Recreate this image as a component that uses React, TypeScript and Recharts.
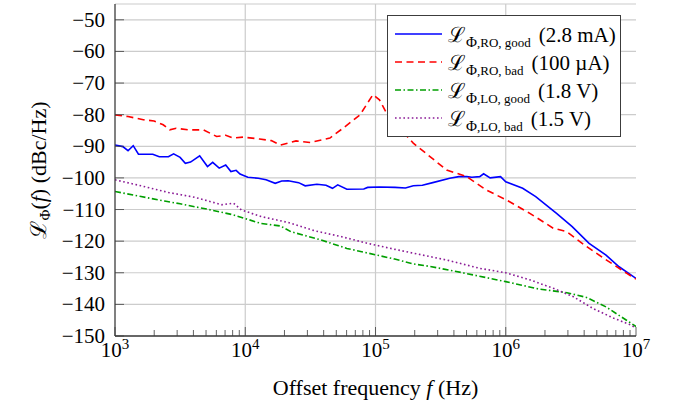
import { LineChart, Line, XAxis, YAxis, CartesianGrid, ReferenceLine, Legend } from 'recharts';

const FONT = '"Liberation Serif", "Times New Roman", serif';
const AXIS = '#3c3c3c';
const GRID = '#cccccc';

// x axis: decades get a label, the rest are minor ticks
const decades = [1e3, 1e4, 1e5, 1e6, 1e7];
const decadeExponents = ['3', '4', '5', '6', '7'];
const gridDecades = [1e4, 1e5, 1e6];
const xTicks = decades.slice(0, -1).flatMap(d => [1, 2, 3, 4, 5, 6, 7, 8, 9].map(m => m * d)).concat([1e7]);
const yTicks = [-150, -140, -130, -120, -110, -100, -90, -80, -70, -60, -50];

// RO, good (2.8 mA) - blue
const roGoodFreq = [
  1000, 1148, 1259, 1380, 1514, 1950, 2188, 2570, 2818, 3162, 3467, 3802, 4467, 5129, 5623, 6310,
  7079, 7762, 8511, 9120, 10470, 12590, 14450, 16980, 19050, 21380, 25700, 28840, 35480, 41690,
  46770, 51290, 60260, 81280, 87100, 107200, 141300, 169800, 195000, 229100, 275400, 371500,
  436500, 501200, 549500, 631000, 676100, 758600, 912000, 1000000, 1349000, 1698000, 2455000,
  3236000, 4365000, 5888000, 7413000, 10000000,
];
const roGoodLevel = [
  -89.6, -90.1, -91.4, -89.8, -92.5, -92.5, -93.3, -93.3, -92.4, -93.5, -95.4, -95.0, -93.0, -96.4, -95.1, -96.9,
  -95.9, -98.0, -97.6, -98.8, -99.8, -100.1, -100.6, -101.7, -101.0, -100.9, -101.5, -102.5, -102.0, -102.3,
  -103.3, -102.2, -103.6, -103.5, -103.0, -102.9, -103.0, -103.2, -102.5, -102.3, -101.5, -100.1,
  -99.6, -99.6, -99.8, -99.6, -98.7, -100.0, -99.6, -101.2, -103.3, -105.9, -111.2,
  -115.4, -120.7, -124.4, -128.1, -131.8,
];

// RO, bad (100 uA) - red dashed
const roBadFreq = [
  1000, 1259, 1650, 1995, 2344, 2630, 2951, 3631, 4786, 6026, 7079, 8128, 9660, 12880, 15850, 18620,
  24550, 31620, 44670, 56230, 75860, 95500, 107200, 121600, 195000, 351600, 501200, 707900, 1014000,
  1531000, 2312000, 2931000, 4169000, 5943000, 8511000, 10000000,
];
const roBadLevel = [
  -80.1, -80.6, -81.6, -82.0, -83.2, -84.8, -84.3, -84.8, -84.8, -86.9, -86.5, -87.4, -87.1, -87.7, -88.2, -89.6,
  -88.3, -88.8, -87.4, -84.3, -80.1, -73.7, -75.3, -79.5, -89.0, -97.5, -99.6, -103.8, -107.0,
  -111.2, -115.9, -117.0, -121.7, -126.0, -130.2, -132.0,
];

// LO, good (1.8 V) - green dash-dot
const loGoodFreq = [
  1000, 1585, 2399, 3162, 5129, 8128, 13180, 18620, 22390, 38020, 60260, 102300, 138000, 195000,
  263000, 467700, 1000000, 1820000, 2951000, 4169000, 5888000, 8511000, 10000000,
];
const loGoodLevel = [
  -104.3, -105.9, -107.3, -108.2, -109.9, -111.7, -114.4, -115.2, -117.0, -119.6, -122.3, -124.4, -125.6, -127.2,
  -128.0, -130.0, -132.8, -135.2, -136.3, -137.8, -140.8, -145.1, -147.0,
];

// LO, bad (1.5 V) - purple dotted
const loBadFreq = [
  1000, 1585, 2570, 4074, 6607, 8128, 9333, 13180, 21380, 33880, 54950, 87100, 141300, 195000,
  354800, 631000, 1000000, 1549000, 2344000, 3311000, 4677000, 6761000, 9120000, 10000000,
];
const loBadLevel = [
  -100.6, -102.5, -104.6, -106.1, -108.5, -108.0, -110.1, -112.2, -114.1, -116.7, -118.6, -120.7, -122.6, -123.8,
  -126.0, -128.6, -130.0, -132.3, -135.0, -137.6, -141.3, -144.4, -146.5, -147.5,
];

const toPoints = (freq: number[], level: number[]) => freq.map((f, i) => ({ freq: f, level: level[i] }));

const series = [
  { key: 'roGood', data: toPoints(roGoodFreq, roGoodLevel), color: '#0000ff', dash: undefined, sub: 'RO, good', note: '(2.8 mA)' },
  { key: 'roBad', data: toPoints(roBadFreq, roBadLevel), color: '#ff0000', dash: '7 4.5', sub: 'RO, bad', note: '(100 µA)' },
  { key: 'loGood', data: toPoints(loGoodFreq, loGoodLevel), color: '#009f00', dash: '6 2.5 1.5 2.5', sub: 'LO, good', note: '(1.8 V)' },
  { key: 'loBad', data: toPoints(loBadFreq, loBadLevel), color: '#8a1a96', dash: '1.6 2.6', sub: 'LO, bad', note: '(1.5 V)' },
];

function BottomTick({ x, y, payload }: any) {
  const i = decades.indexOf(payload.value);
  return (
    <g>
      <line x1={x} x2={x} y1={y} y2={y - (i >= 0 ? 9 : 6)} stroke={AXIS} strokeWidth={0.8} />
      {i >= 0 && (
        <text x={x} y={y + 21} textAnchor="middle" style={{ fontFamily: FONT }} fontSize={21} fill="#000">
          10<tspan dy={-8} fontSize={15}>{decadeExponents[i]}</tspan>
        </text>
      )}
    </g>
  );
}

function TopTick({ x, y, payload }: any) {
  const major = decades.includes(payload.value);
  return <line x1={x} x2={x} y1={y} y2={y + (major ? 9 : 6)} stroke={AXIS} strokeWidth={0.8} />;
}

function LeftTick({ x, y, payload }: any) {
  return (
    <g>
      <line x1={x} x2={x + 9} y1={y} y2={y} stroke={AXIS} strokeWidth={0.8} />
      <text x={x - 10} y={y + 7} textAnchor="end" style={{ fontFamily: FONT }} fontSize={21} fill="#000">
        {'\u2212' + Math.abs(payload.value)}
      </text>
    </g>
  );
}

function RightTick({ x, y }: any) {
  return <line x1={x} x2={x - 9} y1={y} y2={y} stroke={AXIS} strokeWidth={0.8} />;
}

function XTitle({ viewBox }: any) {
  const cx = viewBox.x + viewBox.width / 2;
  return (
    <text x={cx} y={395} textAnchor="middle" style={{ fontFamily: FONT }} fontSize={22} fill="#000">
      Offset frequency <tspan fontStyle="italic">f</tspan> (Hz)
    </text>
  );
}

function YTitle({ viewBox }: any) {
  const cy = viewBox.y + viewBox.height / 2;
  const bx = 46;
  return (
    <text x={bx} y={cy} transform={`rotate(-90, ${bx}, ${cy})`} textAnchor="middle" style={{ fontFamily: FONT }} fontSize={22} fill="#000">
      ℒ<tspan fontSize={15} dy={4}>Φ</tspan><tspan dy={-4}>(</tspan><tspan fontStyle="italic">f</tspan>) (dBc/Hz)
    </text>
  );
}

function LegendBox() {
  return (
    <div style={{ border: `1px solid ${AXIS}`, background: '#fff', padding: '4px 8px 4px 7px', fontFamily: FONT, color: '#000' }}>
      {series.map(s => (
        <div key={s.key} style={{ display: 'flex', alignItems: 'center', height: 28, whiteSpace: 'nowrap' }}>
          <svg width={47} height={10} style={{ flex: 'none' }}>
            <line x1={0} x2={47} y1={5} y2={5} stroke={s.color} strokeWidth={1.6} strokeDasharray={s.dash} />
          </svg>
          <span style={{ marginLeft: 6, fontSize: 21 }}>
            ℒ
            <span style={{ fontSize: 15, position: 'relative', top: 5 }}>Φ</span>
            <span style={{ fontSize: 13, position: 'relative', top: 5 }}>,{s.sub}</span>
            <span style={{ marginLeft: 8 }}>{s.note}</span>
          </span>
        </div>
      ))}
    </div>
  );
}

export default function App() {
  return (
    <div style={{ position: 'absolute', left: 0, top: 0, background: '#fff' }}>
      <LineChart width={678} height={404} margin={{ top: 4, right: 42, bottom: 0, left: 0 }}>
        <CartesianGrid vertical={false} stroke={GRID} strokeWidth={1.2} />
        {gridDecades.map(d => (
          <ReferenceLine key={d} x={d} stroke={GRID} strokeWidth={1.2} />
        ))}
        <XAxis
          dataKey="freq"
          type="number"
          scale="log"
          domain={[1e3, 1e7]}
          allowDataOverflow
          ticks={xTicks}
          interval={0}
          tickSize={0}
          tickMargin={0}
          tickLine={false}
          tick={<BottomTick />}
          height={68}
          axisLine={{ stroke: AXIS, strokeWidth: 1.3 }}
          label={{ content: (props: any) => <XTitle {...props} /> }}
        />
        <XAxis
          xAxisId="top"
          orientation="top"
          dataKey="freq"
          type="number"
          scale="log"
          domain={[1e3, 1e7]}
          allowDataOverflow
          ticks={xTicks}
          interval={0}
          tickSize={0}
          tickMargin={0}
          tickLine={false}
          tick={<TopTick />}
          height={0}
          axisLine={{ stroke: AXIS, strokeWidth: 1.3 }}
        />
        <YAxis
          type="number"
          domain={[-150, -45]}
          allowDataOverflow
          ticks={yTicks}
          interval={0}
          tickSize={0}
          tickMargin={0}
          tickLine={false}
          tick={<LeftTick />}
          width={115}
          axisLine={{ stroke: AXIS, strokeWidth: 1.3 }}
          label={{ content: (props: any) => <YTitle {...props} /> }}
        />
        <YAxis
          yAxisId="right"
          orientation="right"
          type="number"
          domain={[-150, -45]}
          allowDataOverflow
          ticks={yTicks}
          interval={0}
          tickSize={0}
          tickMargin={0}
          tickLine={false}
          tick={<RightTick />}
          width={0}
          axisLine={{ stroke: AXIS, strokeWidth: 1.3 }}
        />
        {series.map(s => (
          <Line
            key={s.key}
            data={s.data}
            dataKey="level"
            type="linear"
            stroke={s.color}
            strokeWidth={1.6}
            strokeDasharray={s.dash}
            dot={false}
            activeDot={false}
            isAnimationActive={false}
          />
        ))}
        <Legend
          layout="vertical"
          align="center"
          verticalAlign="middle"
          content={() => <LegendBox />}
          wrapperStyle={{ left: 387, top: 15, width: 234 }}
        />
      </LineChart>
    </div>
  );
}
